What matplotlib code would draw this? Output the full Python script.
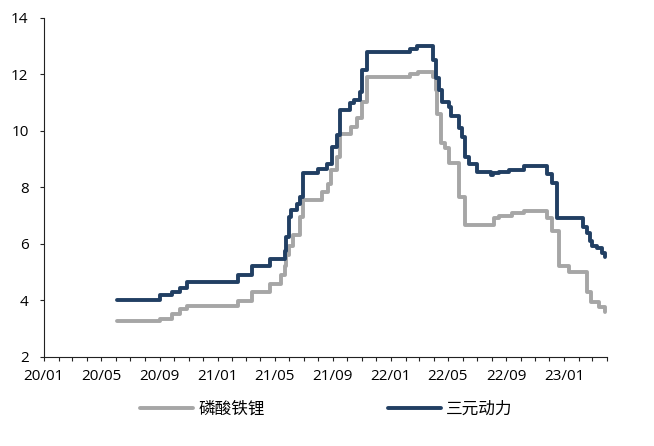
import pandas as pd
import matplotlib.pyplot as plt
import matplotlib.dates as mdates

plt.rcParams['font.family'] = ['Open Sans', 'Noto Sans CJK SC', 'DejaVu Sans']

# 三元动力 price steps (date the price changes, new level)
ncm_dates = ['2020-06-04', '2020-09-01', '2020-09-26', '2020-10-13', '2020-10-28',
             '2021-02-14', '2021-03-14', '2021-04-21', '2021-05-22', '2021-05-26',
             '2021-06-01', '2021-06-04', '2021-06-18', '2021-06-23', '2021-06-29',
             '2021-07-31', '2021-08-19', '2021-08-29', '2021-08-31', '2021-09-09',
             '2021-09-15', '2021-10-06', '2021-10-16', '2021-10-27', '2021-11-02',
             '2021-11-11', '2022-02-11', '2022-02-26', '2022-03-31', '2022-04-07',
             '2022-04-13', '2022-04-19', '2022-05-04', '2022-05-08', '2022-05-25',
             '2022-05-31', '2022-06-07', '2022-06-15', '2022-07-02', '2022-07-31',
             '2022-08-04', '2022-08-17', '2022-09-07', '2022-09-28', '2022-10-09',
             '2022-11-26', '2022-12-07', '2022-12-17', '2023-02-10', '2023-02-18',
             '2023-02-24', '2023-03-01', '2023-03-12', '2023-03-22', '2023-03-28']
ncm_vals = [4.0, 4.2, 4.3, 4.45, 4.65,
            4.9, 5.2, 5.47, 5.76, 6.23,
            6.94, 7.18, 7.4, 7.65, 8.5,
            8.66, 8.84, 9.13, 9.43, 9.85,
            10.75, 10.97, 11.1, 11.38, 12.15,
            12.8, 12.9, 13.02, 12.5, 11.86,
            11.44, 11.03, 10.85, 10.52, 10.1,
            9.78, 9.07, 8.84, 8.54, 8.43,
            8.52, 8.56, 8.6, 8.62, 8.74,
            8.46, 8.14, 6.9, 6.6, 6.37,
            6.1, 5.94, 5.85, 5.66, 5.55]

# 磷酸铁锂 price steps
lfp_dates = ['2020-06-04', '2020-09-01', '2020-09-26', '2020-10-13', '2020-10-28',
             '2021-02-14', '2021-03-14', '2021-04-21', '2021-05-14', '2021-05-22',
             '2021-05-26', '2021-06-01', '2021-06-08', '2021-06-23', '2021-06-29',
             '2021-08-09', '2021-08-21', '2021-08-27', '2021-09-09', '2021-09-15',
             '2021-10-10', '2021-10-21', '2021-11-02', '2021-11-11', '2022-02-11',
             '2022-02-28', '2022-03-31', '2022-04-07', '2022-04-09', '2022-04-17',
             '2022-04-25', '2022-05-04', '2022-05-25', '2022-06-07', '2022-08-07',
             '2022-08-17', '2022-09-14', '2022-10-09', '2022-11-26', '2022-12-07',
             '2022-12-21', '2023-01-12', '2023-02-18', '2023-02-27', '2023-03-16',
             '2023-03-28']
lfp_vals = [3.25, 3.35, 3.5, 3.7, 3.8,
            3.97, 4.28, 4.58, 4.9, 5.2,
            5.6, 5.94, 6.3, 6.94, 7.56,
            7.83, 8.13, 8.6, 9.07, 9.9,
            10.14, 10.45, 11.03, 11.9, 12.0,
            12.1, 11.9, 11.44, 10.6, 9.56,
            9.4, 8.85, 7.64, 6.65, 6.9,
            7.0, 7.08, 7.15, 6.9, 6.45,
            5.23, 4.99, 4.28, 3.93, 3.75,
            3.57]

ncm = pd.Series(ncm_vals, index=pd.to_datetime(ncm_dates))
lfp = pd.Series(lfp_vals, index=pd.to_datetime(lfp_dates))

fig = plt.figure(figsize=(6.54, 4.46), dpi=100)
ax = fig.add_axes([0.067, 0.2, 0.861, 0.76])

line_kw = dict(drawstyle='steps-post', lw=2.8, solid_joinstyle='round', solid_capstyle='round')
ax.plot(lfp.index, lfp.values, color='#a6a6a6', label='磷酸铁锂', **line_kw)
ax.plot(ncm.index, ncm.values, color='#213f63', label='三元动力', **line_kw)

ax.set_ylim(2, 14)
ax.set_yticks(range(2, 15, 2))
ax.set_xlim(pd.Timestamp('2020-01-01'), pd.Timestamp('2023-04-01'))
ax.xaxis.set_major_locator(mdates.MonthLocator(bymonth=[1, 5, 9]))
ax.xaxis.set_minor_locator(mdates.MonthLocator())
ax.xaxis.set_major_formatter(mdates.DateFormatter('%y/%m'))

for s in ['top', 'right']:
    ax.spines[s].set_visible(False)
for s in ['left', 'bottom']:
    ax.spines[s].set_color('#222222')
    ax.spines[s].set_linewidth(0.8)

ax.tick_params(axis='y', length=3, width=0.8, pad=8, labelsize=11, color='#222222')
ax.tick_params(axis='x', which='both', length=3, width=0.8, pad=6, labelsize=11, color='#222222')

fig.legend(loc='center', bbox_to_anchor=(0.499, 0.081), ncol=2, frameon=False,
           fontsize=12, handlelength=3.2, columnspacing=7.4, handletextpad=0.3)

fig.savefig('out.png', dpi=100)
